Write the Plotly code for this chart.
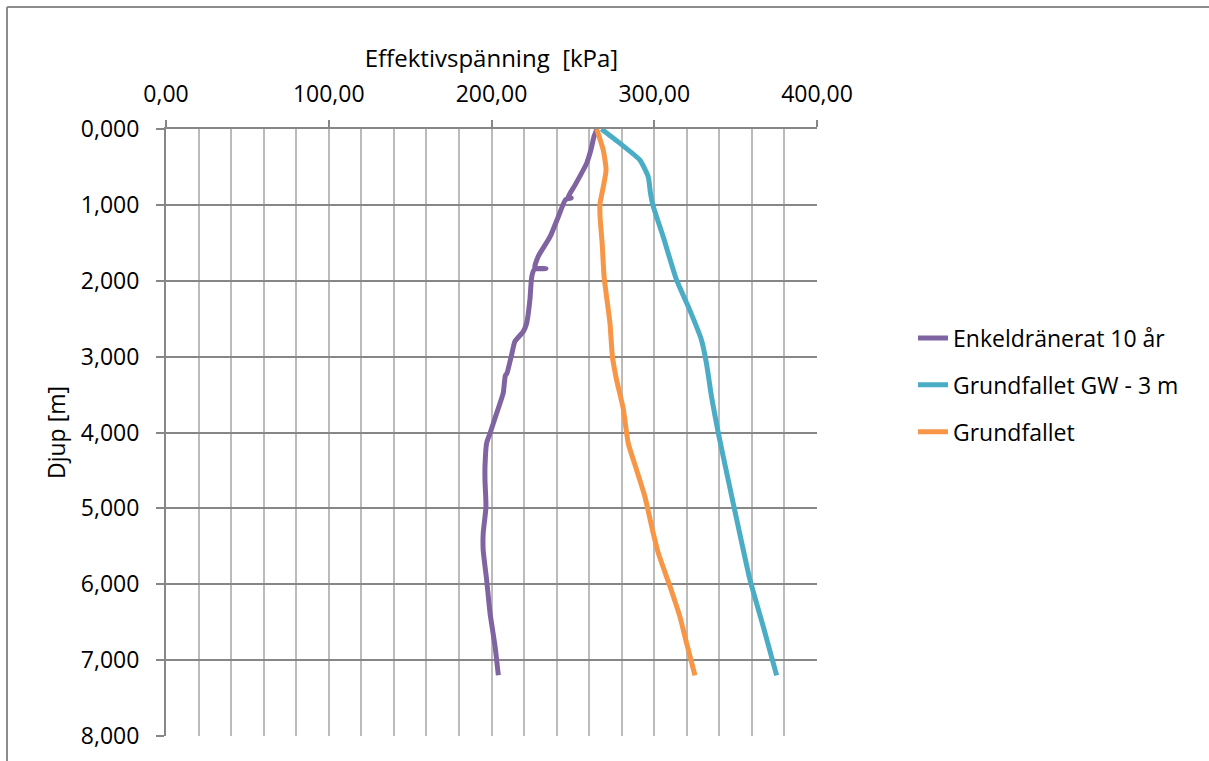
import plotly.graph_objects as go

# Effective stress profiles versus depth
depth_enkel = [0.00, 0.10, 0.28, 0.45, 0.74, 0.90, 0.91, 0.93, 1.16, 1.42, 1.68, 1.83, 1.84, 1.85,
               1.95, 2.25, 2.56, 2.67, 2.80, 2.98, 3.22, 3.25, 3.48, 3.75, 4.01, 4.14, 4.45,
               4.63, 4.98, 5.33, 5.55, 5.94, 6.38, 6.82, 7.20]
stress_enkel = [264.8, 263.0, 261.0, 258.5, 251.3, 247.0, 249.0, 245.5, 241.0, 236.0, 228.7, 226.6, 233.5, 226.4,
                224.7, 223.6, 221.6, 219.5, 214.4, 212.3, 209.5, 208.5, 207.2, 203.1, 199.1, 197.0, 196.0,
                196.0, 196.6, 194.9, 194.9, 197.0, 199.1, 202.2, 204.2]

depth_gw = [0.00, 0.19, 0.41, 0.63, 0.85, 1.02, 1.42, 1.99, 2.39, 2.78, 3.09, 3.53,
            4.01, 4.63, 5.24, 5.94, 6.56, 7.20]
stress_gw = [267.5, 279.0, 291.2, 296.3, 297.7, 299.4, 305.5, 313.7, 321.9, 329.0, 332.1, 335.2,
             339.4, 345.5, 351.6, 358.8, 367.0, 375.2]

depth_grund = [0.00, 0.28, 0.54, 0.76, 0.98, 1.16, 1.51, 1.95, 2.34, 2.56, 3.00, 3.30, 3.68,
               4.14, 4.49, 4.85, 5.33, 5.59, 6.03, 6.43, 6.78, 7.20]
stress_grund = [264.6, 268.7, 270.4, 268.7, 266.7, 266.7, 268.0, 269.2, 271.5, 272.8, 274.3, 276.8, 280.9,
                284.0, 289.1, 294.3, 299.4, 302.5, 309.7, 315.8, 319.9, 325.0]

series = [
    ("Enkeldränerat 10 år", stress_enkel, depth_enkel, "#8064A2"),
    ("Grundfallet GW - 3 m", stress_gw, depth_gw, "#4BACC6"),
    ("Grundfallet", stress_grund, depth_grund, "#F79646"),
]

FONT = "Open Sans"
fig = go.Figure()
for i, (name, xs, ys, color) in enumerate(series):
    fig.add_trace(go.Scatter(
        x=xs, y=ys, name=name, mode="lines", legendgroup=f"g{i}",
        line=dict(color=color, width=5, shape="spline", smoothing=0.5),
    ))

W, H = 1209, 761
L, R, T, B = 166, 392, 129, 25
pw, ph = W - L - R, H - T - B


def px(xp):
    return (xp - L) / pw


def py(yp):
    return (H - B - yp) / ph


fig.update_layout(
    width=W, height=H,
    margin=dict(l=L, r=R, t=T, b=B, autoexpand=False),
    paper_bgcolor="white", plot_bgcolor="white",
    separators=",.",
    font=dict(family=FONT, size=23, color="#000000"),
    showlegend=True,
    legend=dict(
        x=px(913), y=py(385), xanchor="left", yanchor="middle",
        font=dict(family=FONT, size=23, color="#000000"),
        tracegroupgap=14, itemwidth=30, bgcolor="rgba(0,0,0,0)",
    ),
    xaxis=dict(
        side="top", range=[0, 400], dtick=100, tickformat=".2f",
        showgrid=True, gridcolor="#BBBBBB", gridwidth=1.8,
        minor=dict(dtick=20, showgrid=True, gridcolor="#BBBBBB", gridwidth=1.8),
        showline=True, linecolor="#878787", linewidth=2,
        ticks="outside", ticklen=7, tickcolor="#878787", tickwidth=1.5,
        zeroline=False, ticklabelstandoff=9,
        title=dict(text="Effektivspänning  [kPa]", standoff=2,
                   font=dict(family=FONT, size=24)),
    ),
    yaxis=dict(
        range=[8, 0], dtick=1, tickformat=".3f",
        showgrid=True, gridcolor="#878787", gridwidth=2,
        showline=True, linecolor="#878787", linewidth=2,
        ticks="outside", ticklen=8, tickcolor="#878787", tickwidth=1.5,
        zeroline=False, ticklabelstandoff=12,
        title=dict(text="Djup [m]", standoff=9, font=dict(family=FONT, size=23)),
    ),
    shapes=[
        dict(type="line", xref="paper", yref="paper",
             x0=px(7), x1=px(W + 5), y0=py(7), y1=py(7),
             line=dict(color="#8C8C8C", width=2)),
        dict(type="line", xref="paper", yref="paper",
             x0=px(7), x1=px(7), y0=py(7), y1=py(H + 5),
             line=dict(color="#8C8C8C", width=2)),
    ],
)

fig.write_html("out.html")
